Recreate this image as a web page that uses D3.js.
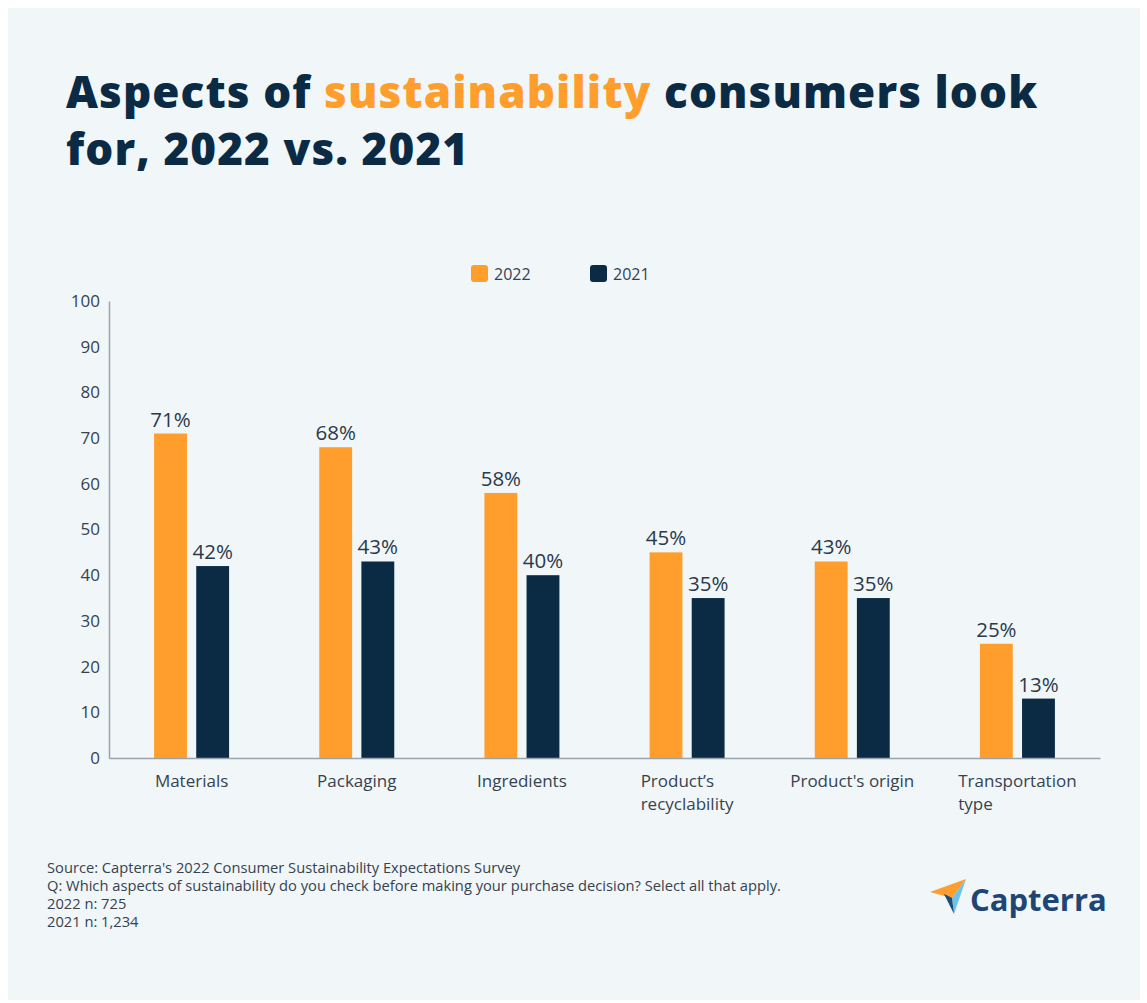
<!DOCTYPE html>
<html>
<head>
<meta charset="utf-8">
<script src="https://cdn.jsdelivr.net/npm/d3@7"></script>
<style>
  body { margin: 0; background: #ffffff; }
  svg { display: block; font-family: "Open Sans", sans-serif; }
</style>
</head>
<body>
<svg id="chart" width="1147" height="1003"></svg>
<script>
// data
var categories = ["Materials", "Packaging", "Ingredients", "Product\u2019s\nrecyclability", "Product's origin", "Transportation\ntype"];
var years = ["2022", "2021"];
var values2022 = [71, 68, 58, 45, 43, 25];
var values2021 = [42, 43, 40, 35, 35, 13];
var yTicks = [0, 10, 20, 30, 40, 50, 60, 70, 80, 90, 100];
var footnotes = [
  "Source: Capterra's 2022 Consumer Sustainability Expectations Survey",
  "Q: Which aspects of sustainability do you check before making your purchase decision? Select all that apply.",
  "2022 n: 725",
  "2021 n: 1,234"
];

var ORANGE = '#ff9e2c', NAVY = '#0b2b45', TEXT = '#36434f';

var svg = d3.select('#chart');

// panel
svg.append('rect')
  .attr('x', 8).attr('y', 8)
  .attr('width', 1132).attr('height', 992)
  .attr('fill', '#f1f6f9');

// title
var title = svg.append('text')
  .attr('x', 66).attr('y', 108)
  .style('font-size', '44px')
  .style('font-weight', 800)
  .style('letter-spacing', '1.1px')
  .style('fill', NAVY);
title.append('tspan').text('Aspects of ');
title.append('tspan').style('fill', ORANGE).text('sustainability');
title.append('tspan').text(' consumers look');
svg.append('text')
  .attr('x', 66).attr('y', 165)
  .style('font-size', '44px')
  .style('font-weight', 800)
  .style('letter-spacing', '1.1px')
  .style('fill', NAVY)
  .text('for, 2022 vs. 2021');

// scales
var x0 = d3.scaleBand()
  .domain(categories)
  .range([109, 1100]);
var x1 = d3.scaleBand()
  .domain(years)
  .range([0, 75])
  .paddingInner(0.22);
var y = d3.scaleLinear()
  .domain([0, 100])
  .range([758, 301]);

var rows = categories.map(function(c, i) {
  return { cat: c, vals: [{ year: '2022', v: values2022[i] }, { year: '2021', v: values2021[i] }] };
});
var color = d3.scaleOrdinal().domain(years).range([ORANGE, NAVY]);

// y axis
var yAxis = svg.append('g')
  .attr('transform', 'translate(109,0)')
  .call(d3.axisLeft(y).tickValues(yTicks).tickSize(0).tickPadding(9));
yAxis.select('.domain').attr('stroke', '#9aa3aa').attr('stroke-width', 1.5);
yAxis.selectAll('text')
  .style('font-family', '"Open Sans", sans-serif')
  .style('font-size', '17px')
  .style('fill', TEXT);

// bars
var groups = svg.selectAll('g.grp')
  .data(rows)
  .enter().append('g')
  .attr('class', 'grp')
  .attr('transform', function(d) { return 'translate(' + (x0(d.cat) + x0.bandwidth() / 2 - 37.5) + ',0)'; });

groups.selectAll('rect')
  .data(function(d) { return d.vals; })
  .enter().append('rect')
  .attr('x', function(d) { return x1(d.year); })
  .attr('y', function(d) { return y(d.v); })
  .attr('width', x1.bandwidth())
  .attr('height', function(d) { return y(0) - y(d.v); })
  .attr('fill', function(d) { return color(d.year); });

groups.selectAll('text.val')
  .data(function(d) { return d.vals; })
  .enter().append('text')
  .attr('class', 'val')
  .attr('x', function(d) { return x1(d.year) + x1.bandwidth() / 2; })
  .attr('y', function(d) { return y(d.v) - 7; })
  .attr('text-anchor', 'middle')
  .style('font-size', '20.5px')
  .style('fill', '#2a3a49')
  .text(function(d) { return d.v + '%'; });

// x axis
var xAxis = svg.append('g')
  .attr('transform', 'translate(0,758)')
  .call(d3.axisBottom(x0).tickSize(0).tickPadding(0));
xAxis.select('.domain').attr('stroke', '#9aa3aa').attr('stroke-width', 1.5);
xAxis.selectAll('.tick text').remove();
xAxis.selectAll('.tick').each(function(d) {
  var lines = d.split('\n');
  var t = d3.select(this).append('text')
    .attr('text-anchor', 'start')
    .style('font-family', '"Open Sans", sans-serif')
    .style('font-size', '17px')
    .style('fill', TEXT);
  var spans = t.selectAll('tspan')
    .data(lines)
    .enter().append('tspan')
    .attr('x', 0)
    .attr('y', function(l, i) { return 29 + i * 23; })
    .text(function(l) { return l; });
  // block of lines centred on the band, lines left aligned
  var wmax = 0;
  spans.each(function() { wmax = Math.max(wmax, this.getComputedTextLength()); });
  spans.attr('x', -wmax / 2);
});

// legend
var legend = svg.selectAll('g.leg')
  .data(years)
  .enter().append('g')
  .attr('class', 'leg')
  .attr('transform', function(d, i) { return 'translate(' + (471 + i * 119) + ',265)'; });
legend.append('rect')
  .attr('width', 17).attr('height', 17).attr('rx', 3)
  .attr('fill', function(d) { return color(d); });
legend.append('text')
  .attr('x', 23).attr('y', 15)
  .style('font-size', '16px')
  .style('fill', TEXT)
  .text(function(d) { return d; });

// footnotes
svg.selectAll('text.foot')
  .data(footnotes)
  .enter().append('text')
  .attr('class', 'foot')
  .attr('x', 47)
  .attr('y', function(d, i) { return 873 + i * 18; })
  .style('font-size', '14.7px')
  .style('fill', TEXT)
  .text(function(d) { return d; });

// logo
var logo = svg.append('g').attr('transform', 'translate(930,876)');
logo.append('path').attr('d', 'M0,16 L36,3 L22,22 Z').attr('fill', ORANGE);
logo.append('path').attr('d', 'M14,18 L22,22 L22,30 Z').attr('fill', '#e5453a');
logo.append('path').attr('d', 'M22,22 L36,3 L24,38 Z').attr('fill', '#6cc3ea');
logo.append('path').attr('d', 'M14,18 L22,22 L24,38 Z').attr('fill', '#1f4a7a');
logo.append('text')
  .attr('x', 40).attr('y', 35)
  .style('font-size', '31px')
  .style('font-weight', 700)
  .style('fill', '#1e4675')
  .text('Capterra');
</script>
</body>
</html>
